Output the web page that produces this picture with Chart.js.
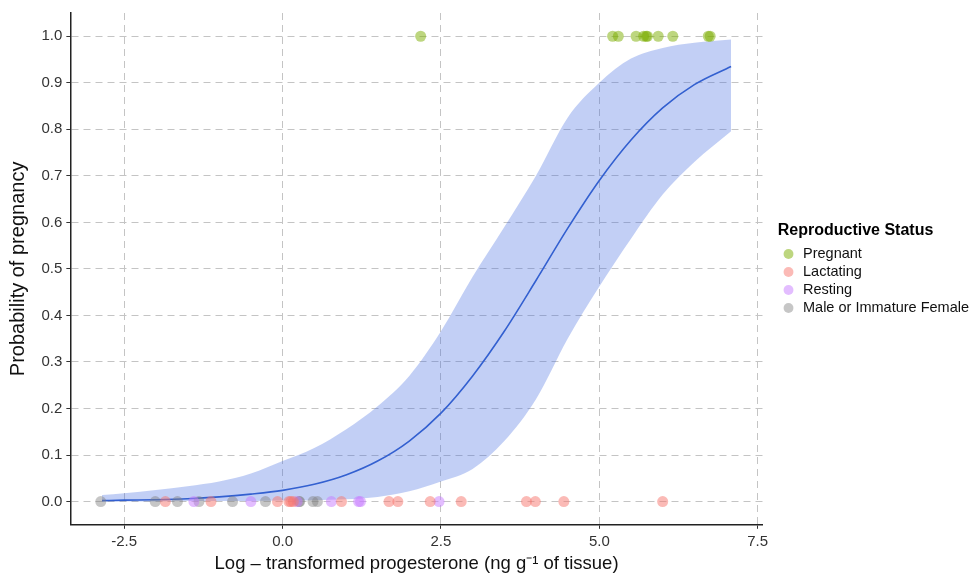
<!DOCTYPE html>
<html>
<head>
<meta charset="utf-8">
<script src="https://cdn.jsdelivr.net/npm/chart.js@4.4.1/dist/chart.umd.min.js"></script>
<style>
  html, body { margin: 0; padding: 0; background: #fff; }
</style>
</head>
<body>
<canvas id="c" width="973" height="576"></canvas>
<script>
// categories
const statuses = ['Pregnant', 'Lactating', 'Resting', 'Male or Immature Female'];

// log-progesterone of each animal, by status (pregnant = 1, others = 0)
const pregnantX = [2.18, 5.21, 5.30, 5.58, 5.70, 5.74, 5.76, 5.93, 6.16, 6.72, 6.75];
const lactatingX = [-1.85, -1.13, -0.08, 0.10, 0.13, 0.17, 0.93, 1.68, 1.82, 2.33, 2.82, 3.85, 3.99, 4.44, 6.00];
const restingX = [-1.40, -0.50, 0.23, 0.77, 1.20, 1.23, 2.47];
const maleImmX = [-2.87, -2.01, -1.66, -1.32, -0.79, -0.27, 0.26, 0.27, 0.48, 0.55];

// fitted curve + confidence band
const fitX   = [-2.85, -2.5, -2, -1.5, -1, -0.5, 0, 0.5, 1, 1.5, 2, 2.5, 3, 3.5, 4, 4.5, 5, 5.5, 6, 6.5, 7.08];
const fitY   = [0.002, 0.003, 0.004, 0.006, 0.010, 0.016, 0.024, 0.037, 0.057, 0.087, 0.13, 0.19, 0.27, 0.366, 0.475, 0.587, 0.69, 0.777, 0.846, 0.896, 0.935];
const ciLow  = [0, 0, 0, 0.001, 0.001, 0.001, 0.002, 0.003, 0.005, 0.010, 0.022, 0.043, 0.070, 0.13, 0.22, 0.35, 0.462, 0.565, 0.66, 0.73, 0.796];
const ciHigh = [0.014, 0.018, 0.025, 0.033, 0.043, 0.06, 0.087, 0.115, 0.155, 0.205, 0.27, 0.366, 0.483, 0.59, 0.70, 0.825, 0.90, 0.952, 0.975, 0.986, 0.993];

// ticks
const xTicks = [-2.5, 0, 2.5, 5, 7.5];
const yTicks = [0, 0.1, 0.2, 0.3, 0.4, 0.5, 0.6, 0.7, 0.8, 0.9, 1.0];

const statusX = [pregnantX, lactatingX, restingX, maleImmX];
const statusColors = ['rgba(124,174,0,0.5)', 'rgba(248,118,109,0.5)', 'rgba(199,124,255,0.5)', 'rgba(128,128,128,0.45)'];

const toXY = (xs, ys) => xs.map((x, i) => ({ x, y: ys[i] }));

const pointSets = statuses.map((name, i) => ({
  type: 'scatter',
  label: name,
  data: statusX[i].map(x => ({ x, y: name === 'Pregnant' ? 1 : 0 })),
  backgroundColor: statusColors[i],
  borderColor: statusColors[i],
  borderWidth: 0,
  pointRadius: 5.5,
  pointHoverRadius: 5.5,
  order: 0,
}));

// leave a gap between the plot panel and the legend, like ggplot does
const legendGap = {
  id: 'legendGap',
  afterLayout(chart) {
    const lg = chart.legend;
    lg.left += 15;
    lg.right += 15;
    lg.top += 2;
    lg.bottom += 2;
  },
};

const grid = { color: '#c4c4c4', lineWidth: 1, tickColor: '#333', tickLength: 4 };
const border = { display: true, color: '#222', width: 1.5, dash: [7, 5] };

new Chart(document.getElementById('c'), {
  type: 'line',
  data: {
    datasets: [
      {
        label: 'upper',
        data: toXY(fitX, ciHigh),
        borderWidth: 0,
        pointRadius: 0,
        fill: '+1',
        backgroundColor: 'rgba(65,105,225,0.32)',
        cubicInterpolationMode: 'monotone',
        order: 2,
      },
      {
        label: 'lower',
        data: toXY(fitX, ciLow),
        borderWidth: 0,
        pointRadius: 0,
        fill: false,
        cubicInterpolationMode: 'monotone',
        order: 2,
      },
      {
        label: 'fit',
        data: toXY(fitX, fitY),
        borderColor: '#3360d0',
        borderWidth: 1.6,
        pointRadius: 0,
        fill: false,
        cubicInterpolationMode: 'monotone',
        order: 1,
      },
      ...pointSets,
    ],
  },
  plugins: [legendGap],
  options: {
    responsive: false,
    animation: false,
    layout: { padding: { top: 12, left: 6, right: 9, bottom: 1 } },
    plugins: {
      tooltip: { enabled: false },
      legend: {
        position: 'right',
        align: 'center',
        fullSize: false,
        title: {
          display: true,
          text: 'Reproductive Status',
          position: 'start',
          color: '#000',
          font: { family: 'Liberation Sans', size: 16, weight: 'bold' },
          padding: { top: 0, bottom: 1 },
        },
        labels: {
          usePointStyle: true,
          pointStyle: 'circle',
          boxHeight: 7,
          color: '#111',
          font: { family: 'Liberation Sans', size: 14.5 },
          padding: 3.5,
          filter: item => item.datasetIndex >= 3,
        },
      },
    },
    scales: {
      x: {
        type: 'linear',
        min: -3.35,
        max: 7.58,
        afterBuildTicks: axis => { axis.ticks = xTicks.map(v => ({ value: v })); },
        grid,
        border,
        ticks: {
          color: '#333',
          font: { family: 'Liberation Sans', size: 15 },
          padding: 4,
          maxRotation: 0,
          callback: v => v.toFixed(1),
        },
        title: {
          display: true,
          text: 'Log \u2013 transformed progesterone (ng g\u207B\u00B9 of tissue)',
          color: '#111',
          font: { family: 'Liberation Sans', size: 18.5 },
          padding: { top: -2, bottom: 0 },
        },
      },
      y: {
        type: 'linear',
        min: -0.05,
        max: 1.05,
        afterBuildTicks: axis => { axis.ticks = yTicks.map(v => ({ value: v })); },
        grid,
        border,
        ticks: {
          color: '#333',
          font: { family: 'Liberation Sans', size: 15 },
          padding: 4,
          callback: v => v.toFixed(1),
        },
        title: {
          display: true,
          text: 'Probability of pregnancy',
          color: '#111',
          font: { family: 'Liberation Sans', size: 20 },
          padding: { top: 0, bottom: 7.5 },
        },
      },
    },
  },
});
</script>
</body>
</html>
